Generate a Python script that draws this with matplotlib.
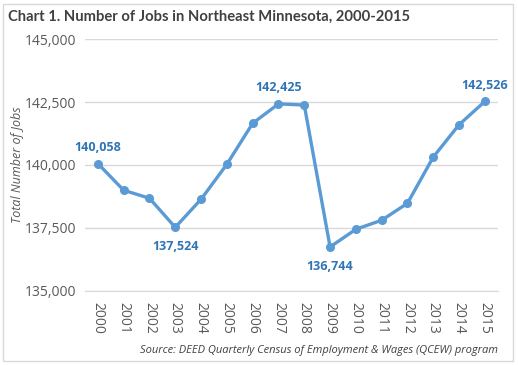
import matplotlib.pyplot as plt
from matplotlib.patches import Rectangle
from matplotlib.ticker import FuncFormatter

years = [str(y) for y in range(2000, 2016)]
jobs = [140058, 138996, 138679, 137524, 138639, 140028, 141655, 142425,
        142380, 136744, 137448, 137806, 138480, 140317, 141600, 142526]
# which points get a value label, and where (above / below)
label_pos = {0: 'above', 3: 'below', 7: 'above', 9: 'below', 15: 'above'}

plt.rcParams['font.family'] = ['Open Sans', 'DejaVu Sans']

fig = plt.figure(figsize=(5.18, 3.65), dpi=100)
fig.patches.append(Rectangle((0.006, 0.01), 0.984, 0.98, transform=fig.transFigure,
                             fill=False, edgecolor='#d9d9d9', linewidth=1))
ax = fig.add_axes([0.164, 0.203, 0.797, 0.69])

x = range(len(years))
ax.plot(x, jobs, color='#5b9bd5', linewidth=2.4, marker='o', markersize=5.5, zorder=3)

for i, pos in label_pos.items():
    off = 11.5 if pos == 'above' else -14
    ax.annotate('{:,}'.format(jobs[i]), (i, jobs[i]), xytext=(0, off),
                textcoords='offset points', ha='center', va='center',
                fontsize=9, fontweight='bold', color='#2e75b6')

ax.set_xlim(-0.5, len(years) - 0.5)
ax.set_ylim(135000, 145000)
ax.set_yticks([135000, 137500, 140000, 142500, 145000])
ax.yaxis.set_major_formatter(FuncFormatter(lambda v, p: '{:,.0f}'.format(v)))
ax.set_xticks(list(x))
ax.set_xticklabels(years, rotation=-90)
ax.grid(axis='y', color='#d9d9d9', linewidth=1)
ax.set_axisbelow(True)
for s in ['top', 'right', 'left']:
    ax.spines[s].set_visible(False)
ax.spines['bottom'].set_color('#d9d9d9')
ax.tick_params(axis='both', length=0, colors='#595959', labelsize=10, pad=6)
ax.tick_params(axis='x', pad=8)

ax.set_ylabel('Total Number of Jobs', fontsize=9, style='italic', color='#595959', labelpad=1)

fig.text(0.016, 0.955, 'Chart 1. Number of Jobs in Northeast Minnesota, 2000-2015',
         fontsize=10.6, fontweight='bold', color='#404040', va='center',
         family=['Lato', 'DejaVu Sans'])
fig.text(0.962, 0.04, 'Source: DEED Quarterly Census of Employment & Wages (QCEW) program',
         fontsize=8, style='italic', color='#404040', ha='right', va='center')

fig.savefig('out.png', dpi=100)
